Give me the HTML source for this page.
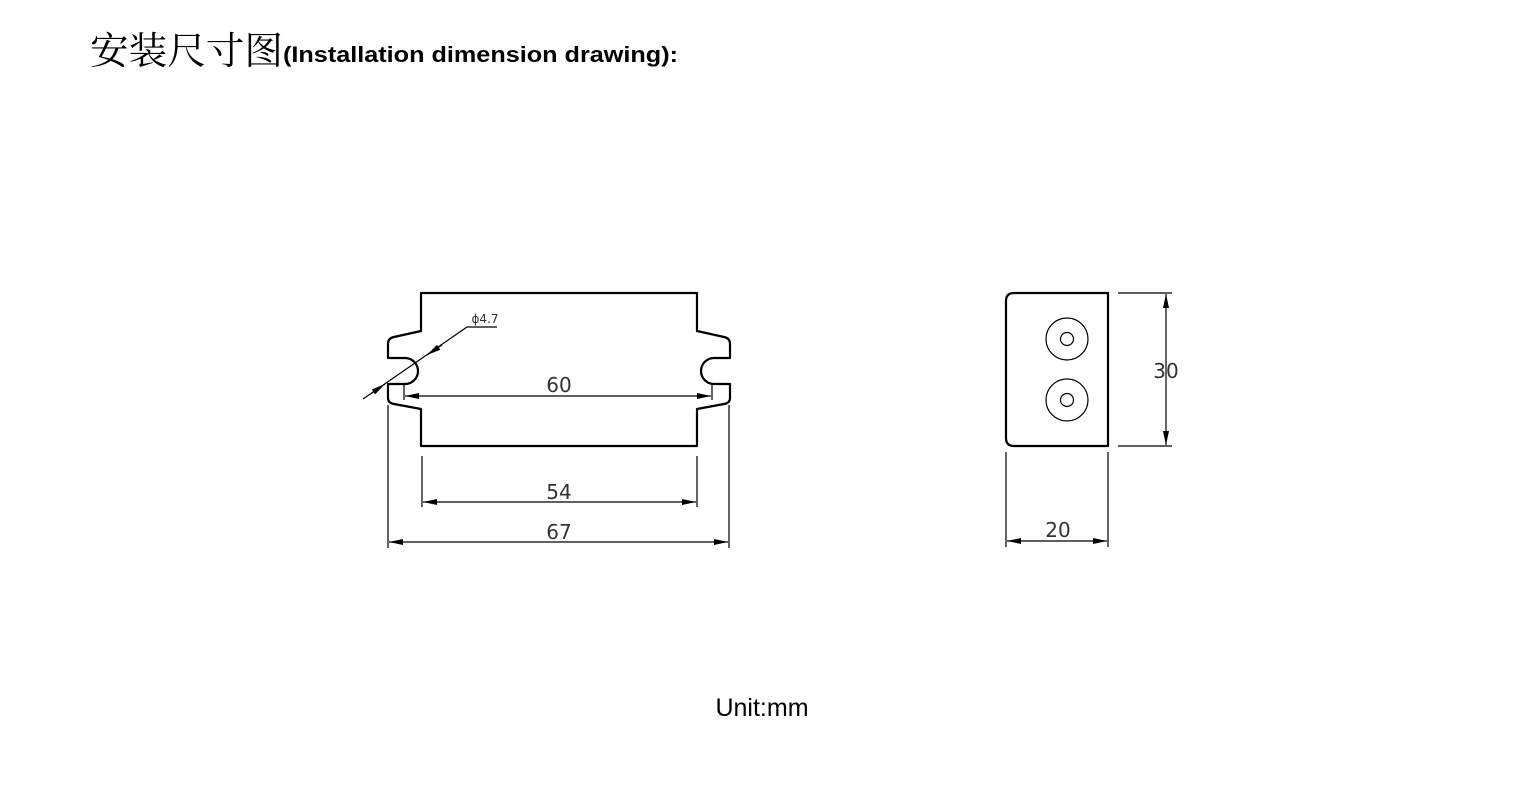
<!DOCTYPE html>
<html><head><meta charset="utf-8"><style>
html,body{margin:0;padding:0;background:#fff;}
svg{display:block;}
</style></head><body>
<svg width="1540" height="806" viewBox="0 0 1540 806" xmlns="http://www.w3.org/2000/svg">
<defs>
<marker id="a" viewBox="0 0 14 6" refX="14" refY="3" markerWidth="14" markerHeight="6" markerUnits="userSpaceOnUse" orient="auto-start-reverse"><path d="M0,0 L14,3 L0,6 z" fill="#000"/></marker>
</defs>
<text x="90" y="64" font-family="'Noto Serif CJK SC','Noto Sans CJK SC',serif" font-size="38" textLength="193" lengthAdjust="spacingAndGlyphs">安装尺寸图</text>
<text x="283" y="62" font-family="'Liberation Sans',sans-serif" font-weight="bold" font-size="22" textLength="395" lengthAdjust="spacingAndGlyphs">(Installation dimension drawing):</text>

<g fill="none" stroke="#000" stroke-width="2.2" stroke-linejoin="round">
<path d="M421,293 H697 V331 L724,337 Q730,338 730,344 V358 H714 A13,13 0 0 0 714,384 H730 V398 Q730,403 724,404 L697,409 V446 H421 V409 L394,404 Q388,403 388,398 V384 H405 A13,13 0 0 0 405,358 H388 V344 Q388,338 394,337 L421,331 Z"/>
<path d="M1014,293 H1108 V446 H1014 Q1006,446 1006,438 V301 Q1006,293 1014,293 Z"/>
</g>
<g fill="none" stroke="#000" stroke-width="1.2">
<circle cx="1067" cy="339" r="21"/><circle cx="1067" cy="339" r="6.5"/>
<circle cx="1067" cy="400" r="21"/><circle cx="1067" cy="400" r="6.5"/>
<line x1="404" y1="384" x2="404" y2="400"/><line x1="712" y1="384" x2="712" y2="400"/>
<line x1="422" y1="456" x2="422" y2="507"/><line x1="697" y1="456" x2="697" y2="507"/>
<line x1="388" y1="405" x2="388" y2="548"/><line x1="729" y1="405" x2="729" y2="548"/>
<line x1="1118" y1="293" x2="1172" y2="293"/><line x1="1118" y1="446" x2="1172" y2="446"/>
<line x1="1006" y1="452" x2="1006" y2="547"/><line x1="1108" y1="452" x2="1108" y2="547"/>
<line x1="405" y1="396" x2="711" y2="396" marker-start="url(#a)" marker-end="url(#a)"/>
<line x1="423" y1="502" x2="696" y2="502" marker-start="url(#a)" marker-end="url(#a)"/>
<line x1="389" y1="542" x2="728" y2="542" marker-start="url(#a)" marker-end="url(#a)"/>
<line x1="1166" y1="294" x2="1166" y2="445" marker-start="url(#a)" marker-end="url(#a)"/>
<line x1="1007" y1="541" x2="1107" y2="541" marker-start="url(#a)" marker-end="url(#a)"/>
<polyline points="363,399 467,327 497,327"/>
<line x1="442" y1="345" x2="427" y2="355" marker-end="url(#a)"/>
<line x1="369" y1="395" x2="385" y2="384" marker-end="url(#a)"/>
</g>
<g font-family="'DejaVu Sans','Liberation Sans',sans-serif" fill="#333" font-size="20" text-anchor="middle">
<text x="559" y="392">60</text>
<text x="559" y="499">54</text>
<text x="559" y="539">67</text>
<text x="1058" y="537">20</text>
<text x="1166" y="378">30</text>
<text x="485" y="323" font-size="12">ϕ4.7</text>
</g>
<text x="762" y="716" font-family="'Liberation Sans',sans-serif" font-size="25" text-anchor="middle">Unit:mm</text>
</svg>
</body></html>
